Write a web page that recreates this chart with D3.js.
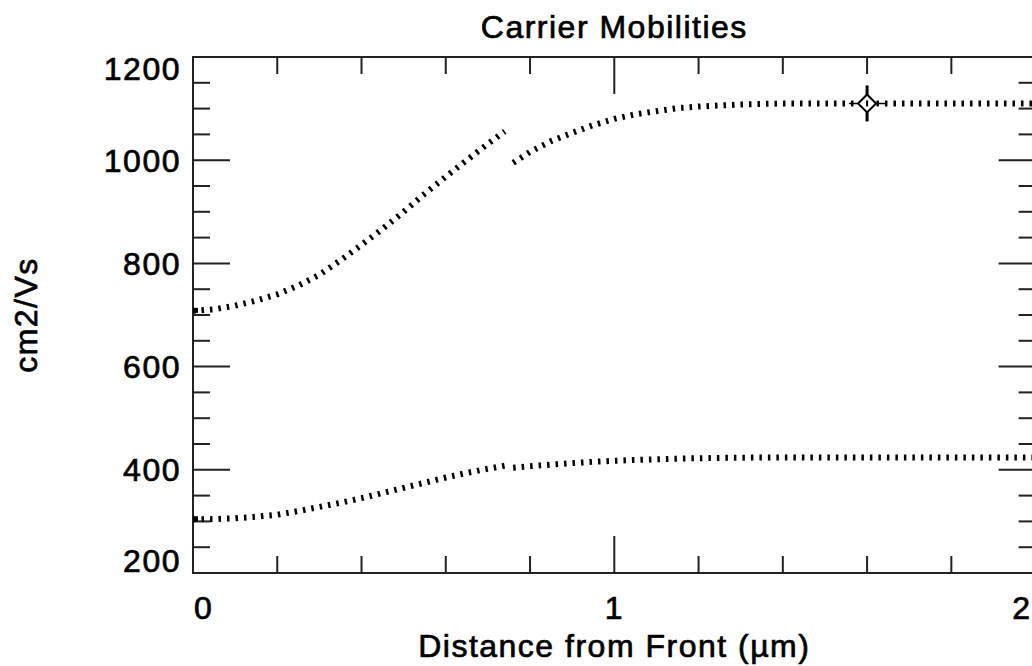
<!DOCTYPE html>
<html>
<head>
<meta charset="utf-8">
<script src="https://cdn.jsdelivr.net/npm/d3@7"></script>
<style>
  body { margin: 0; background: #fff; }
  svg text { font-family: "Liberation Sans", Arial, sans-serif; font-size: 32px; letter-spacing: 1.5px; fill: #000; stroke: #000; stroke-width: 0.7px; }
  .frame { fill: none; stroke: #222; stroke-width: 2; }
  .tick { stroke: #222; stroke-width: 2; }
  .series { fill: none; stroke: #000; stroke-width: 6; stroke-dasharray: 2.5 6; }
  .cursor { fill: #fff; stroke: #000; stroke-width: 2; }
</style>
</head>
<body>
<div id="chart"></div>
<script>
// Values
var depth = [0, 0.05, 0.1, 0.15, 0.2, 0.25, 0.3, 0.35, 0.4, 0.45, 0.5, 0.55, 0.6, 0.65, 0.7, 0.74,
  0.75, 0.76, 0.8, 0.85, 0.9, 0.95, 1.0, 1.05, 1.1, 1.15, 1.2, 1.3, 1.4, 1.5, 1.6, 1.7, 1.8, 1.9, 2.0];
var electron_mobility = [708, 711, 718, 728, 740, 757, 778, 806, 836, 867, 900, 935, 968, 1000, 1032, 1056,
  null, 995, 1016, 1037, 1053, 1068, 1080, 1089, 1095, 1101, 1104, 1108, 1110, 1110, 1110, 1110, 1110, 1110, 1110];
var hole_mobility = [304, 304.5, 306, 309, 313, 320, 328, 336, 345, 355, 365, 375, 385, 394, 402, 408,
  null, 404, 407, 410, 413, 415.5, 417.5, 419, 420.5, 421.5, 422.5, 423.5, 424, 424, 424, 424, 424, 424, 424];
var x_ticks = [0, 0.2, 0.4, 0.6, 0.8, 1, 1.2, 1.4, 1.6, 1.8, 2];
var x_labels = [0, 1, 2];
var y_ticks = [200, 250, 300, 350, 400, 450, 500, 550, 600, 650, 700, 750, 800, 850, 900, 950, 1000, 1050, 1100, 1150, 1200];
var y_labels = [200, 400, 600, 800, 1000, 1200];
var cursor_depth = 1.6;
var cursor_value = 1110;

var create_chart = function() {
  // Layout, fine-tuned against the reference
  var width = 1032;
  var height = 666;
  var plot = { left: 193, right: 1035.6, top: 57, bottom: 573 };
  var major_tick = 37;
  var minor_tick = 17;

  var x_scale = d3.scaleLinear().domain([0, 2]).range([plot.left, plot.right]);
  var y_scale = d3.scaleLinear().domain([200, 1200]).range([plot.bottom, plot.top]);

  var svg = d3.select("#chart").append("svg")
      .attr("width", width)
      .attr("height", height);

  var is_major_x = function(d) { return x_labels.indexOf(d) >= 0; };
  var is_major_y = function(d) { return y_labels.indexOf(d) >= 0; };

  // Ticks on all four sides, pointing inwards
  var ticks = svg.append("g");
  x_ticks.forEach(function(d) {
    var len = is_major_x(d) ? major_tick : minor_tick;
    ticks.append("line").attr("class", "tick")
        .attr("x1", x_scale(d)).attr("x2", x_scale(d))
        .attr("y1", plot.bottom).attr("y2", plot.bottom - len);
    ticks.append("line").attr("class", "tick")
        .attr("x1", x_scale(d)).attr("x2", x_scale(d))
        .attr("y1", plot.top).attr("y2", plot.top + len);
  });
  y_ticks.forEach(function(d) {
    var len = is_major_y(d) ? major_tick : minor_tick;
    ticks.append("line").attr("class", "tick")
        .attr("x1", plot.left).attr("x2", plot.left + len)
        .attr("y1", y_scale(d)).attr("y2", y_scale(d));
    ticks.append("line").attr("class", "tick")
        .attr("x1", plot.right).attr("x2", plot.right - len)
        .attr("y1", y_scale(d)).attr("y2", y_scale(d));
  });

  svg.append("rect").attr("class", "frame")
      .attr("x", plot.left).attr("y", plot.top)
      .attr("width", plot.right - plot.left)
      .attr("height", plot.bottom - plot.top);

  // Tick labels, end ones kept inside the frame
  x_labels.forEach(function(d, i) {
    var anchor = i == 0 ? "start" : (i == x_labels.length - 1 ? "end" : "middle");
    var shift = i == 0 ? 1 : (i == x_labels.length - 1 ? -4 : 0);
    svg.append("text")
        .attr("x", x_scale(d) + shift)
        .attr("y", 619)
        .attr("text-anchor", anchor)
        .text(d);
  });
  y_labels.forEach(function(d) {
    var base = y_scale(d) + 11.5;
    base = Math.max(base, plot.top + 23);
    base = Math.min(base, plot.bottom - 1);
    svg.append("text")
        .attr("x", plot.left - 12)
        .attr("y", base)
        .attr("text-anchor", "end")
        .text(d);
  });

  // Titles
  svg.append("text")
      .attr("x", (plot.left + plot.right) / 2)
      .attr("y", 38)
      .attr("text-anchor", "middle")
      .text("Carrier Mobilities");
  svg.append("text")
      .attr("x", (plot.left + plot.right) / 2)
      .attr("y", 657)
      .attr("text-anchor", "middle")
      .text("Distance from Front (\u00b5m)");
  svg.append("text")
      .attr("transform", "translate(37," + (plot.top + plot.bottom) / 2 + ") rotate(-90)")
      .attr("text-anchor", "middle")
      .text("cm2/Vs");

  // Plot series
  var plot_series = function(values) {
    var points = depth.map(function(d, i) { return [d, values[i]]; });
    var line = d3.line()
        .defined(function(p) { return p[1] !== null; })
        .x(function(p) { return x_scale(p[0]); })
        .y(function(p) { return y_scale(p[1]); });
    svg.append("path").attr("class", "series").attr("d", line(points));
    svg.append("rect")
        .attr("x", x_scale(depth[0]))
        .attr("y", y_scale(values[0]) - 3)
        .attr("width", 5).attr("height", 5)
        .attr("fill", "#000");
  };
  plot_series(electron_mobility);
  plot_series(hole_mobility);

  // Cursor marker
  var cx = x_scale(cursor_depth);
  var cy = y_scale(cursor_value);
  var r = 9;
  var cursor = svg.append("g");
  cursor.append("line").attr("stroke", "#000").attr("stroke-width", 1.5)
      .attr("x1", cx - 18).attr("x2", cx + 18).attr("y1", cy).attr("y2", cy);
  cursor.append("line").attr("stroke", "#000").attr("stroke-width", 3)
      .attr("x1", cx).attr("x2", cx).attr("y1", cy - 18).attr("y2", cy + 18);
  cursor.append("path").attr("class", "cursor")
      .attr("d", "M" + cx + "," + (cy - r) + "L" + (cx + r) + "," + cy + "L" + cx + "," + (cy + r) + "L" + (cx - r) + "," + cy + "Z");
  cursor.append("rect")
      .attr("x", cx - 1).attr("y", cy - 3)
      .attr("width", 2).attr("height", 6)
      .attr("fill", "#000");
};

create_chart();
</script>
</body>
</html>
